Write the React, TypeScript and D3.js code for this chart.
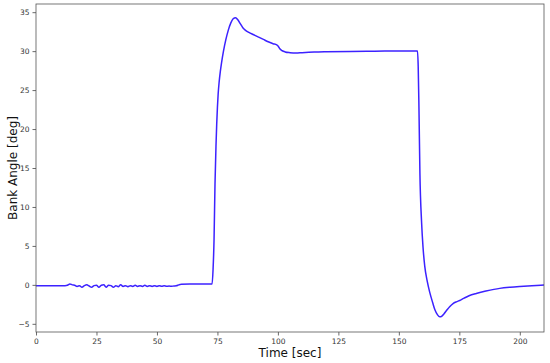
import React, { useEffect, useRef } from 'react';
import * as d3 from 'd3';

// Bank angle time history
const timeSec: number[] = [
  0, 12, 13, 14, 15, 16, 17, 18, 19, 20, 21, 22, 23, 24, 25, 26, 27, 28, 29, 30,
  31, 32, 33, 34, 35, 36, 37, 38, 39, 40, 41, 42, 43, 44, 45, 46, 47, 48, 49, 50,
  51, 52, 53, 54, 55, 56, 57, 58, 59, 60, 65, 72.8,
  73.2, 73.6, 74.0, 74.4, 74.7, 75.0, 75.3, 75.7, 76.2, 76.7, 77.5, 78.5, 79.5, 80.5, 81.5, 82.5,
  83.5, 84.5, 85.5, 86.5, 88, 90, 92, 94, 96, 98, 99.5, 100.2, 100.8, 101.8, 103,
  105, 107.5, 110, 115, 120, 130, 140, 150, 157.7,
  158.0, 158.3, 158.7, 159.4, 160, 160.7, 161.7, 162.8, 164, 164.9, 166, 166.9,
  167.8, 168.7, 169.7, 171, 172.4, 174, 175.5, 177, 179, 182, 186, 191.7, 196,
  200, 205, 210
];

const bankAngle: number[] = [
  -0.1, -0.1, -0.05, 0.12, 0.0, -0.05, -0.2, -0.1, -0.3, -0.1, 0.0, -0.15, -0.3, -0.1, -0.05, -0.3, -0.05, 0.0, -0.3, -0.05,
  -0.1, -0.3, -0.1, -0.25, 0.0, -0.2, -0.1, -0.25, -0.1, -0.2, -0.05, -0.2, -0.1, -0.2, -0.05, -0.2, -0.1, -0.2, -0.1, -0.2,
  -0.1, -0.18, -0.12, -0.18, -0.15, -0.18, -0.15, -0.12, 0.0, 0.08, 0.1, 0.12,
  2.0, 5.8, 13.0, 17.8, 20.6, 22.8, 24.5, 26.0, 27.4, 28.5, 30, 31.5, 32.7, 33.6, 34.15, 34.3,
  34.0, 33.5, 33.0, 32.7, 32.4, 32.1, 31.8, 31.5, 31.2, 30.95, 30.8, 30.6, 30.3, 30.05, 29.9,
  29.8, 29.75, 29.8, 29.88, 29.92, 29.96, 30.0, 30.02, 30.03,
  28, 22.9, 14.4, 8.0, 4.8, 2.4, 0.5, -1.0, -2.3, -3.2, -3.85, -4.1,
  -4.0, -3.7, -3.3, -2.8, -2.4, -2.15, -1.95, -1.7, -1.4, -1.1, -0.8, -0.45, -0.3,
  -0.2, -0.1, -0.02
];

const xTicks = [0, 25, 50, 75, 100, 125, 150, 175, 200];
const yTicks = [-5, 0, 5, 10, 15, 20, 25, 30, 35];

const width = 550;
const height = 363;

export default function App() {
  const svgRef = useRef<SVGSVGElement>(null);

  useEffect(() => {
    if (!svgRef.current) return;
    const svg = d3.select(svgRef.current);
    svg.selectAll('*').remove();

    const margin = { top: 4, right: 6, bottom: 31, left: 36 };
    const innerW = width - margin.left - margin.right;
    const innerH = height - margin.top - margin.bottom;

    const x = d3.scaleLinear().domain([0, 210]).range([0, innerW]);
    const y = d3.scaleLinear().domain([-6.05, 36.05]).range([innerH, 0]);

    const g = svg.append('g').attr('transform', `translate(${margin.left},${margin.top})`);

    const pts = timeSec.map((t, i) => [t, bankAngle[i]] as [number, number]);
    const line = d3.line<[number, number]>()
      .x(d => x(d[0]))
      .y(d => y(d[1]))
      .curve(d3.curveMonotoneX);

    g.append('path')
      .datum(pts)
      .attr('fill', 'none')
      .attr('stroke', '#3c22ff')
      .attr('stroke-width', 1.5)
      .attr('d', line);

    // axes
    const styleAxis = (sel: d3.Selection<SVGGElement, unknown, null, undefined>) => {
      sel.select('.domain').remove();
      sel.selectAll('line').attr('stroke', '#444').attr('stroke-width', 0.8);
      sel.selectAll('text')
        .attr('fill', '#333')
        .style('font-family', 'DejaVu Sans, sans-serif')
        .style('font-size', '7.5px');
    };

    g.append('g')
      .attr('transform', `translate(0,${innerH})`)
      .call(d3.axisBottom(x).tickValues(xTicks).tickSize(3.5).tickPadding(3).tickFormat(d3.format('d')))
      .call(styleAxis);

    g.append('g')
      .call(d3.axisLeft(y).tickValues(yTicks).tickSize(3.5).tickPadding(3)
        .tickFormat(d => (d as number) < 0 ? '\u2212' + Math.abs(d as number) : String(d)))
      .call(styleAxis);

    // frame
    g.append('rect')
      .attr('width', innerW)
      .attr('height', innerH)
      .attr('fill', 'none')
      .attr('stroke', '#555')
      .attr('stroke-width', 0.8);

    // axis labels
    svg.append('text')
      .attr('x', margin.left + innerW / 2)
      .attr('y', 357)
      .attr('text-anchor', 'middle')
      .style('font-family', 'DejaVu Sans, sans-serif')
      .style('font-size', '12px')
      .attr('fill', '#111')
      .text('Time [sec]');

    svg.append('text')
      .attr('transform', `translate(17,${margin.top + innerH / 2}) rotate(-90)`)
      .attr('text-anchor', 'middle')
      .style('font-family', 'DejaVu Sans, sans-serif')
      .style('font-size', '12px')
      .attr('fill', '#111')
      .text('Bank Angle [deg]');
  }, []);

  return (
    <svg
      ref={svgRef}
      width={width}
      height={height}
      style={{ position: 'absolute', left: 0, top: 0, background: '#fff' }}
    />
  );
}
